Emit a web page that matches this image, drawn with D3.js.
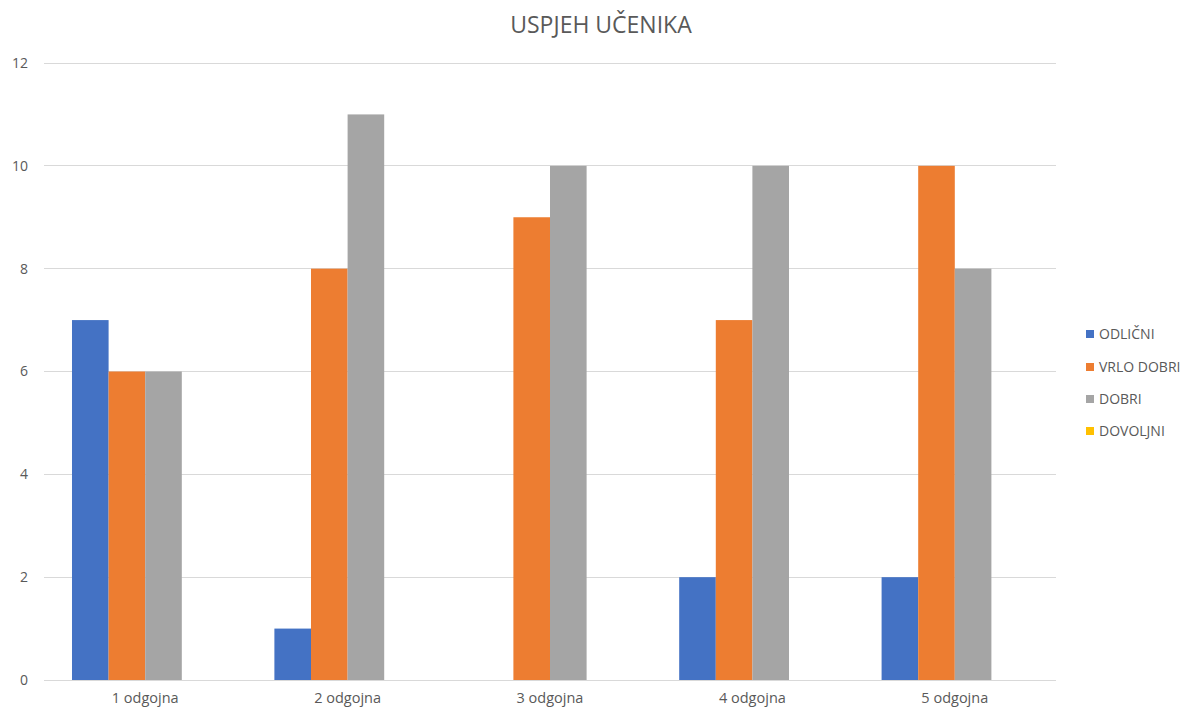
<!DOCTYPE html>
<html><head><meta charset="utf-8">
<script src="https://cdn.jsdelivr.net/npm/d3@7"></script>
<style>body{margin:0;background:#fff}svg{display:block}text{font-family:"Open Sans",sans-serif;fill:#595959}</style>
</head><body><svg id="c" width="1187" height="711"></svg>
<script>
const categories = ["1 odgojna","2 odgojna","3 odgojna","4 odgojna","5 odgojna"];
const seriesNames = ["ODLIČNI","VRLO DOBRI","DOBRI","DOVOLJNI"];
const odlicni   = [7,1,0,2,2];
const vrloDobri = [6,8,9,7,10];
const dobri     = [6,11,10,10,8];
const dovoljni  = [0,0,0,0,0];
const yTicks = [0,2,4,6,8,10,12];
const colors = ["#4472c4","#ed7d31","#a5a5a5","#ffc000"];
const seriesValues = [odlicni, vrloDobri, dobri, dovoljni];

const svg = d3.select("#c");
const L = 44, R = 1056, T = 63, B = 680;
const x0 = d3.scaleBand().domain(categories).range([L, R]).padding(0);
const bw = x0.bandwidth();
const inset = bw * 0.1383;
const x1 = d3.scaleBand().domain(seriesNames).range([inset, bw - inset]).padding(0);
const y = d3.scaleLinear().domain([0, 12]).range([B, T]);

// gridlines
svg.append("g").selectAll("line").data(yTicks).join("line")
  .attr("x1", L).attr("x2", R).attr("y1", d => y(d)).attr("y2", d => y(d))
  .attr("stroke", "#d9d9d9").attr("stroke-width", 1).attr("shape-rendering","crispEdges");

// y labels
svg.append("g").selectAll("text").data(yTicks).join("text")
  .attr("x", 28).attr("y", d => y(d)).attr("dy", "0.35em").attr("text-anchor", "end")
  .attr("font-size", 14).text(d => d);

// bars
const g = svg.append("g");
categories.forEach((c, i) => {
  seriesNames.forEach((s, j) => {
    const v = seriesValues[j][i];
    g.append("rect")
      .attr("x", x0(c) + x1(s)).attr("width", x1.bandwidth())
      .attr("y", y(v)).attr("height", B - y(v))
      .attr("fill", colors[j]);
  });
});

// x labels
svg.append("g").selectAll("text").data(categories).join("text")
  .attr("x", d => x0(d) + bw / 2).attr("y", 698).attr("dy", "0.35em")
  .attr("text-anchor", "middle").attr("font-size", 14.5).text(d => d);

// title
svg.append("text").attr("x", 601).attr("y", 33).attr("text-anchor", "middle")
  .attr("font-size", 23).text("USPJEH UČENIKA");

// legend
const leg = svg.append("g");
const ly = [334, 367, 399, 431];
seriesNames.forEach((s, j) => {
  leg.append("rect").attr("x", 1086).attr("y", ly[j] - 4).attr("width", 8).attr("height", 8).attr("fill", colors[j]);
  leg.append("text").attr("x", 1099).attr("y", ly[j]).attr("dy", "0.35em").attr("font-size", 14).text(s);
});
</script></body></html>
